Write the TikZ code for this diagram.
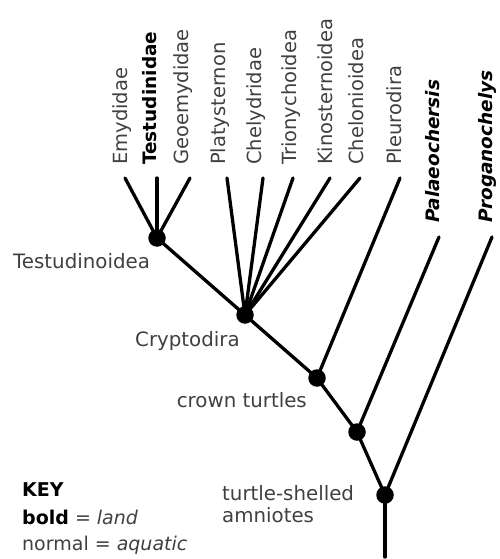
\documentclass[tikz,border=0pt]{standalone}
\usepackage{fontspec}
\setmainfont{DejaVu Sans}
\begin{document}
\begin{tikzpicture}[x=1pt,y=-1pt,
  branch/.style={line width=3.3pt,line cap=round},
  dot/.style={circle,fill=black,inner sep=0pt,minimum size=17.5pt},
  taxon/.style={rotate=90,anchor=mid west,inner sep=0pt,text=black!75,font=\fontsize{19.5}{23}\selectfont},
  taxonb/.style={rotate=90,anchor=mid west,inner sep=0pt,text=black,font=\fontsize{18.5}{22}\selectfont\bfseries},
  taxonbi/.style={rotate=90,anchor=mid west,inner sep=0pt,text=black,font=\fontsize{18.5}{22}\selectfont\bfseries\itshape},
  clade/.style={inner sep=0pt,text=black!75,font=\fontsize{19.8}{23}\selectfont},
  keytext/.style={inner sep=0pt,anchor=mid west,text=black!75,font=\fontsize{19}{23}\selectfont}]
\useasboundingbox (0,0) rectangle (499,559);
% internal nodes
\node[dot] (testu) at (157,238) {};
\node[dot] (crypt) at (245,315) {};
\node[dot] (crown) at (317,378) {};
\node[dot] (pal) at (357,432) {};
\node[dot] (root) at (385,495) {};
\coordinate (base) at (385,557);
% leaf ends
\coordinate (l1) at (125,178);
\coordinate (l2) at (157,178);
\coordinate (l3) at (190,178);
\coordinate (l4) at (227,178);
\coordinate (l5) at (263,178);
\coordinate (l6) at (293,178);
\coordinate (l7) at (330,178);
\coordinate (l8) at (360,178);
\coordinate (l9) at (400,178);
\coordinate (l10) at (439,237);
\coordinate (l11) at (492,237);
% branches
\draw[branch] (testu.center) -- (l1);
\draw[branch] (testu.center) -- (l2);
\draw[branch] (testu.center) -- (l3);
\draw[branch] (crypt.center) -- (l4);
\draw[branch] (crypt.center) -- (l5);
\draw[branch] (crypt.center) -- (l6);
\draw[branch] (crypt.center) -- (l7);
\draw[branch] (crypt.center) -- (l8);
\draw[branch] (testu.center) -- (crypt.center);
\draw[branch] (crypt.center) -- (crown.center);
\draw[branch] (crown.center) -- (l9);
\draw[branch] (crown.center) -- (pal.center);
\draw[branch] (pal.center) -- (l10);
\draw[branch] (pal.center) -- (root.center);
\draw[branch] (root.center) -- (l11);
\draw[branch] (root.center) -- (base);
% taxon labels
\node[taxon] (t1) at (125,165) {Emydidae};
\node[taxonb] (t2) at (154,165) {Testudinidae};
\node[taxon] (t3) at (186,165) {Geoemydidae};
\node[taxon] (t4) at (223,165) {Platysternon};
\node[taxon] (t5) at (259,165) {Chelydridae};
\node[taxon] (t6) at (294,165) {Trionychoidea};
\node[taxon] (t7) at (330,165) {Kinosternoidea};
\node[taxon] (t8) at (361,165) {Chelonioidea};
\node[taxon] (t9) at (399,165) {Pleurodira};
\node[taxonbi] (t10) at (437,223) {Palaeochersis};
\node[taxonbi] (t11) at (490,223) {Proganochelys};
% clade labels
\node[clade,anchor=mid west] (c1) at (13,266) {Testudinoidea};
\node[clade,anchor=mid west] (c2) at (135,344) {Cryptodira};
\node[clade,anchor=mid east] (c3) at (307,405) {crown turtles};
\node[clade,anchor=mid west] (c4) at (222,498) {turtle-shelled};
\node[clade,anchor=mid west] (c5) at (222,520) {amniotes};
% key
\node[keytext,text=black] (k1) at (22,494) {\bfseries KEY};
\node[keytext] (k2) at (22,522) {{\color{black}\bfseries bold} = \textit{land}};
\node[keytext] (k3) at (22,548) {normal = \textit{aquatic}};
\end{tikzpicture}
\end{document}
